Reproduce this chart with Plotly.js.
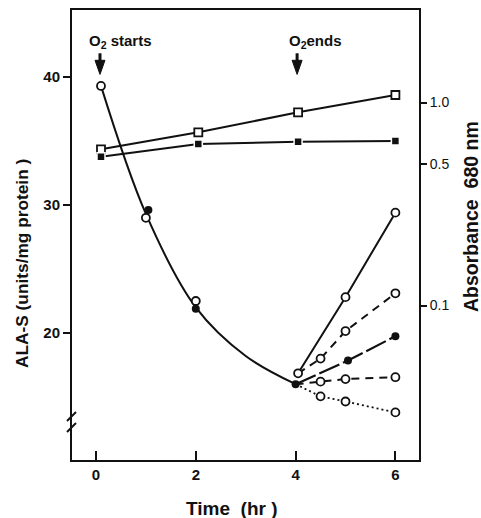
<!DOCTYPE html>
<html>
<head>
<meta charset="utf-8">
<script src="https://cdn.plot.ly/plotly-3.0.1.min.js"></script>
<style>html,body{margin:0;padding:0;background:#fff;}#chart{width:481px;height:518px;}</style>
</head>
<body>
<div id="chart"></div>
<script>
// ALA-S (left axis)
const curveTime = [0.1, 1.0, 2.0, 3.0, 4.0];
const curveAla = [39.3, 29.3, 22.0, 18.2, 16.0];
const openTime = [0.1, 1.0, 2.0];
const openAla = [39.3, 29.0, 22.5];
const filledTime = [1.05, 2.0, 4.0];
const filledAla = [29.6, 21.9, 16.0];

const b1Time = [4.05, 5.0, 6.0];
const b1Ala = [16.85, 22.8, 29.4];
const b2Time = [4.05, 4.5, 5.0, 6.0];
const b2Ala = [16.85, 18.0, 20.15, 23.1];
const b3Time = [4.0, 5.05, 6.0];
const b3Ala = [16.0, 17.85, 19.75];
const b4Time = [4.0, 4.5, 5.0, 6.0];
const b4Ala = [16.0, 16.2, 16.4, 16.55];
const b5Time = [4.0, 4.5, 5.0, 6.0];
const b5Ala = [16.0, 15.05, 14.65, 13.8];

// Absorbance 680 nm (right axis, log)
const absTime = [0.1, 2.05, 4.05, 6.0];
const absOpen = [0.588, 0.713, 0.895, 1.089];
const absFilled = [0.541, 0.625, 0.641, 0.646];

const xTicks = [0, 2, 4, 6];
const leftTicks = [20, 30, 40];
const rightTicks = [0.1, 0.5, 1.0];
const rightTickText = ['0.1', '0.5', '1.0'];

// O2 arrows (time, ALA-S tip)
const arrowTime = [0.08, 4.03];
const arrowTip = 40.2;

const K = '#111';
const FF = 'Liberation Sans, Arial, sans-serif';
const openM = {symbol: 'circle', size: 8, color: '#fff', line: {width: 1.8, color: K}};
const fillM = {symbol: 'circle', size: 8, color: K, line: {width: 0}};

function lineTrace(x, y, dash, width) {
  return {x: x, y: y, mode: 'lines', line: {color: K, width: width || 2, dash: dash || 'solid'}, hoverinfo: 'skip'};
}
function markTrace(x, y, m) {
  return {x: x, y: y, mode: 'markers', marker: m};
}

const traces = [
  {x: curveTime, y: curveAla, mode: 'lines', line: {color: K, width: 2, shape: 'spline', smoothing: 1}, hoverinfo: 'skip'},
  lineTrace(b1Time, b1Ala, 'solid', 2),
  lineTrace(b2Time, b2Ala, '8px,6px', 2),
  lineTrace(b3Time, b3Ala, '22px,4px', 2.2),
  lineTrace(b4Time, b4Ala, '8px,6px', 2),
  lineTrace(b5Time, b5Ala, '2px,3px', 1.8),
  markTrace(openTime, openAla, openM),
  markTrace(filledTime, filledAla, fillM),
  markTrace(b1Time, b1Ala, openM),
  markTrace(b2Time.slice(1), b2Ala.slice(1), openM),
  markTrace(b3Time.slice(1), b3Ala.slice(1), fillM),
  markTrace(b4Time.slice(1), b4Ala.slice(1), openM),
  markTrace(b5Time.slice(1), b5Ala.slice(1), openM),
  {x: absTime, y: absOpen, yaxis: 'y2', mode: 'lines+markers', line: {color: K, width: 2}, marker: {symbol: 'square', size: 8, color: '#fff', line: {width: 1.8, color: K}}},
  {x: absTime, y: absFilled, yaxis: 'y2', mode: 'lines+markers', line: {color: K, width: 2}, marker: {symbol: 'square', size: 8, color: K, line: {width: 1.5, color: '#fff'}}}
];

const shapes = [
  {type: 'line', xref: 'paper', yref: 'paper', x0: (67-72)/347, y0: (460-421)/450, x1: (76-72)/347, y1: (460-412)/450, line: {color: K, width: 2}},
  {type: 'line', xref: 'paper', yref: 'paper', x0: (67-72)/347, y0: (460-432)/450, x1: (76-72)/347, y1: (460-423)/450, line: {color: K, width: 2}}
];
arrowTime.forEach(function (t) {
  shapes.push({type: 'line', xref: 'x', yref: 'y', x0: t, x1: t, y0: 41.85, y1: 41.2, line: {color: K, width: 3}});
  shapes.push({type: 'path', xref: 'x', yref: 'y',
    path: 'M ' + (t - 0.1) + ' 41.3 L ' + (t + 0.1) + ' 41.3 L ' + t + ' ' + arrowTip + ' Z',
    fillcolor: K, line: {color: K, width: 1}});
});

const layout = {
  width: 481, height: 518,
  margin: {l: 72, r: 62, t: 10, b: 58},
  showlegend: false,
  paper_bgcolor: '#fff', plot_bgcolor: '#fff',
  font: {family: FF, color: K},
  xaxis: {
    range: [-0.481, 6.473], tickvals: xTicks, ticks: 'inside', ticklen: 9, tickwidth: 2, tickcolor: K,
    showline: true, linewidth: 2, linecolor: K, mirror: true, showgrid: false, zeroline: false,
    tickfont: {size: 15, family: FF, weight: 'bold', color: K}
  },
  yaxis: {
    range: [10.08, 45.23], tickvals: leftTicks, ticks: 'outside', ticklen: 7, tickwidth: 2, tickcolor: K,
    showline: true, linewidth: 2, linecolor: K, showgrid: false, zeroline: false,
    tickfont: {size: 15, family: FF, weight: 'bold', color: K}
  },
  yaxis2: {
    overlaying: 'y', side: 'right', type: 'log', range: [-1.761, 0.4557],
    tickvals: rightTicks, ticktext: rightTickText, ticks: 'outside', ticklen: 6, tickwidth: 2, tickcolor: K,
    showline: true, linewidth: 2, linecolor: K, showgrid: false, zeroline: false,
    tickfont: {size: 14, family: FF, color: K}
  },
  annotations: [
    {x: -0.18, y: 42.8, xref: 'x', yref: 'y', text: 'O<sub>2</sub> starts', showarrow: false, xanchor: 'left', yanchor: 'middle', font: {size: 15, weight: 'bold', family: FF, color: K}},
    {x: 3.83, y: 42.8, xref: 'x', yref: 'y', text: 'O<sub>2</sub>ends', showarrow: false, xanchor: 'left', yanchor: 'middle', font: {size: 15, weight: 'bold', family: FF, color: K}},
    {x: (232-72)/347, y: (460-508)/450, xref: 'paper', yref: 'paper', text: 'Time  (hr )', showarrow: false, xanchor: 'center', yanchor: 'middle', font: {size: 19, weight: 'bold', family: FF, color: K}},
    {x: (22-72)/347, y: (460-264)/450, xref: 'paper', yref: 'paper', text: 'ALA-S (units/mg protein )', textangle: -90, showarrow: false, xanchor: 'center', yanchor: 'middle', font: {size: 17.3, weight: 'bold', family: FF, color: K}},
    {x: (471-72)/347, y: (460-217)/450, xref: 'paper', yref: 'paper', text: 'Absorbance  680 nm', textangle: -90, showarrow: false, xanchor: 'center', yanchor: 'middle', font: {size: 19.5, weight: 'bold', family: FF, color: K}}
  ],
  shapes: shapes
};

Plotly.newPlot('chart', traces, layout, {displayModeBar: false, staticPlot: true});
</script>
</body>
</html>
